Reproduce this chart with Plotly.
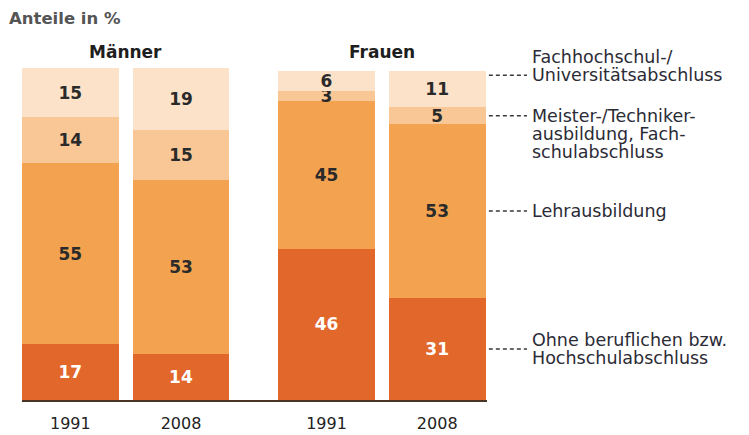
import plotly.graph_objects as go

# Bildungsabschlüsse nach Geschlecht, Anteile in %
groups = ["Männer", "Frauen"]
years = ["1991", "2008"]

# one entry per bar: Männer 1991, Männer 2008, Frauen 1991, Frauen 2008
ohne = [17, 14, 46, 31]
lehre = [55, 53, 45, 53]
meister = [14, 15, 3, 5]
fach = [15, 19, 6, 11]

series_names = [
    "Ohne beruflichen bzw. Hochschulabschluss",
    "Lehrausbildung",
    "Meister-/Technikerausbildung, Fachschulabschluss",
    "Fachhochschul-/Universitätsabschluss",
]
series_values = [ohne, lehre, meister, fach]
series_colors = ["#e2672b", "#f3a24f", "#f9c796", "#fce2c8"]
label_colors = ["#ffffff", "#2a2a2a", "#2a2a2a", "#2a2a2a"]

callout_lines = [
    ["Ohne beruflichen bzw.", "Hochschulabschluss"],
    ["Lehrausbildung"],
    ["Meister-/Techniker-", "ausbildung, Fach-", "schulabschluss"],
    ["Fachhochschul-/", "Universitätsabschluss"],
]
# which text line the dashed leader points at (0.5 = between two lines)
callout_anchor_line = [0.5, 0, 0, 1]

# bar layout
group_gap = 1.315
bar_width = 0.874
x_pos = [g * group_gap + i + g for g in range(len(groups)) for i in range(len(years))]
tick_text = [y for _ in groups for y in years]

FONT = "DejaVu Sans"
TEXT = "#2b2b36"

fig = go.Figure()
for name, vals, col, lc in zip(series_names, series_values, series_colors, label_colors):
    fig.add_trace(go.Bar(
        x=x_pos, y=vals, name=name, width=bar_width,
        marker=dict(color=col, line=dict(width=0)),
        text=[str(v) for v in vals], textposition="inside",
        insidetextanchor="middle", textangle=0,
        textfont=dict(family=FONT, size=17, color=lc, weight="bold"),
        hoverinfo="skip",
    ))

annotations = []
shapes = []

# group headings
for g, name in enumerate(groups):
    cx = (x_pos[2 * g] + x_pos[2 * g + 1]) / 2
    annotations.append(dict(
        x=cx, y=1.048, xref="x", yref="paper", text=name, showarrow=False,
        xanchor="center", yanchor="middle",
        font=dict(family=FONT, size=17, color="#1e1e1e", weight="bold"),
    ))

annotations.append(dict(
    x=-0.032, y=1.15, xref="paper", yref="paper", text="Anteile in %",
    showarrow=False, xanchor="left", yanchor="middle",
    font=dict(family=FONT, size=16.5, color="#555555", weight="bold"),
))

# callouts next to the last bar
last = [s[-1] for s in series_values]
bottoms = [sum(last[:k]) for k in range(len(last))]
anchors = [b + v / 2 for b, v in zip(bottoms, last)]
anchors[-1] = bottoms[-1] + last[-1] - 1.2

line_step = 18
for k, lines in enumerate(callout_lines):
    ay = anchors[k]
    shapes.append(dict(
        type="line", xref="paper", yref="y", x0=1.004, x1=1.086, y0=ay, y1=ay,
        line=dict(color="#3a3a3a", width=1.5, dash="4px,3px"),
    ))
    for j, txt in enumerate(lines):
        annotations.append(dict(
            x=1.0925, y=ay, xref="paper", yref="y", text=txt, showarrow=False,
            xanchor="left", yanchor="middle",
            yshift=(callout_anchor_line[k] - j) * line_step,
            font=dict(family=FONT, size=17.5, color=TEXT),
        ))

fig.update_layout(
    barmode="stack",
    width=749, height=435,
    margin=dict(l=22, r=262, t=68, b=35, autoexpand=False),
    paper_bgcolor="white", plot_bgcolor="white",
    showlegend=False,
    uniformtext=dict(minsize=17, mode="show"),
    annotations=annotations, shapes=shapes,
    xaxis=dict(
        range=[-0.437, x_pos[-1] + 0.45], tickvals=x_pos, ticktext=tick_text,
        showgrid=False, zeroline=False, showline=True,
        linecolor="#4a3426", linewidth=2, ticks="",
        tickfont=dict(family=FONT, size=16, color="#222222"),
        ticklabelstandoff=8, automargin=False, fixedrange=True,
    ),
    yaxis=dict(range=[0, 101], visible=False, fixedrange=True, automargin=False),
)

fig.write_html("out.html")
